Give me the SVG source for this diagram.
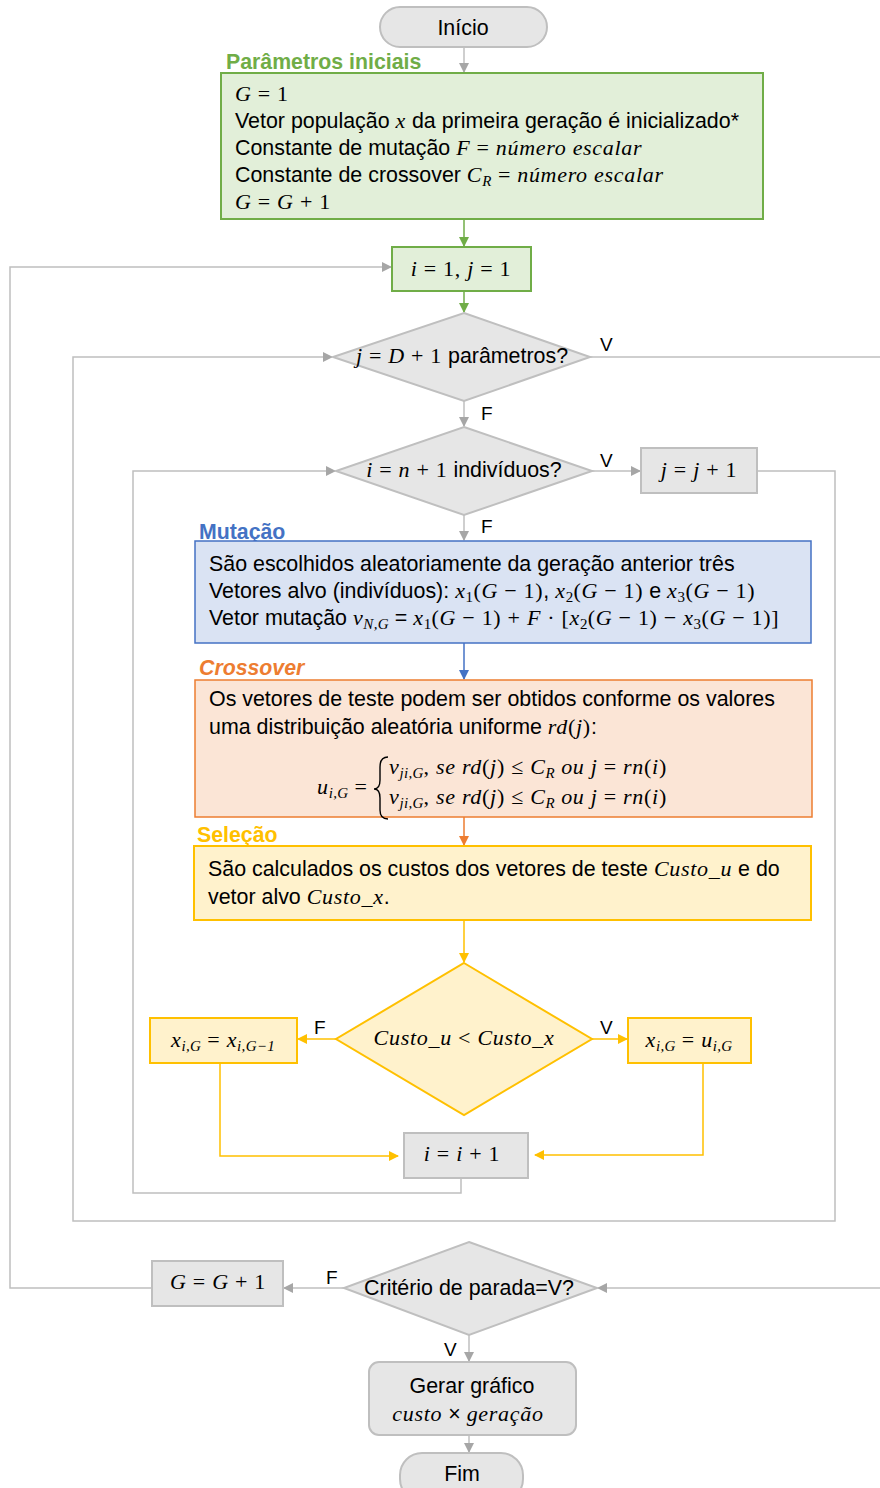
<svg xmlns="http://www.w3.org/2000/svg" width="880" height="1488" viewBox="0 0 880 1488">
<style>
.t{font-family:"Liberation Sans",Arial,sans-serif;font-size:21.4px;fill:#000;letter-spacing:0}
.lbl{font-family:"Liberation Sans",Arial,sans-serif;font-size:19px;fill:#000}
.h{font-family:"Liberation Sans",Arial,sans-serif;font-size:21.3px;font-weight:bold}
.mi{font-family:"Liberation Serif","Times New Roman",serif;font-style:italic;font-size:22px;letter-spacing:0.7px}
.mr{font-family:"Liberation Serif","Times New Roman",serif;font-style:normal;font-size:22px;letter-spacing:0.7px}
.sb{font-size:15px;letter-spacing:0.3px}
.gray{fill:#e6e6e6;stroke:#bfbfbf;stroke-width:2}
.green{fill:#e2efd9;stroke:#70ad47;stroke-width:2}
.blue{fill:#dae3f3;stroke:#4472c4;stroke-width:1.5}
.orange{fill:#fbe5d6;stroke:#ed7d31;stroke-width:1.5}
.yellow{fill:#fff2cc;stroke:#ffc000;stroke-width:2}
.cg{fill:none;stroke:#bfbfbf;stroke-width:1.5}
.cgr{fill:none;stroke:#70ad47;stroke-width:1.5}
.cb{fill:none;stroke:#4472c4;stroke-width:1.5}
.co{fill:none;stroke:#ed7d31;stroke-width:1.5}
.cy{fill:none;stroke:#ffc000;stroke-width:1.5}
</style>
<defs>
<marker id="ag" markerWidth="10" markerHeight="10" refX="9" refY="5" orient="auto" markerUnits="userSpaceOnUse"><path d="M0,0 L10,5 L0,10 z" fill="#a6a6a6"/></marker>
<marker id="agr" markerWidth="10" markerHeight="10" refX="9" refY="5" orient="auto" markerUnits="userSpaceOnUse"><path d="M0,0 L10,5 L0,10 z" fill="#70ad47"/></marker>
<marker id="ab" markerWidth="10" markerHeight="10" refX="9" refY="5" orient="auto" markerUnits="userSpaceOnUse"><path d="M0,0 L10,5 L0,10 z" fill="#4472c4"/></marker>
<marker id="ao" markerWidth="10" markerHeight="10" refX="9" refY="5" orient="auto" markerUnits="userSpaceOnUse"><path d="M0,0 L10,5 L0,10 z" fill="#ed7d31"/></marker>
<marker id="ay" markerWidth="10" markerHeight="10" refX="9" refY="5" orient="auto" markerUnits="userSpaceOnUse"><path d="M0,0 L10,5 L0,10 z" fill="#ffc000"/></marker>
</defs>
<rect width="880" height="1488" fill="#fff"/>

<g id="connectors">
<path class="cg" d="M464,47 V72" marker-end="url(#ag)"/>
<path class="cgr" d="M464,219 V246" marker-end="url(#agr)"/>
<path class="cgr" d="M464,291 V312" marker-end="url(#agr)"/>
<path class="cg" d="M152,1288 H10 V267 H391" marker-end="url(#ag)"/>
<path class="cg" d="M590,357 H880"/>
<path class="cg" d="M464,401 V426" marker-end="url(#ag)"/>
<path class="cg" d="M592,471 H640" marker-end="url(#ag)"/>
<path class="cg" d="M757,471 H835 V1221 H73 V357 H332" marker-end="url(#ag)"/>
<path class="cg" d="M461,1178 V1193 H133 V471 H335" marker-end="url(#ag)"/>
<path class="cg" d="M464,515 V540" marker-end="url(#ag)"/>
<path class="cb" d="M464,643 V679" marker-end="url(#ab)"/>
<path class="co" d="M464,817 V845" marker-end="url(#ao)"/>
<path class="cy" d="M464,920 V962" marker-end="url(#ay)"/>
<path class="cy" d="M336,1039 H298" marker-end="url(#ay)"/>
<path class="cy" d="M592,1039 H627" marker-end="url(#ay)"/>
<path class="cy" d="M220,1063 V1156 H398" marker-end="url(#ay)"/>
<path class="cy" d="M703,1063 V1155 H535" marker-end="url(#ay)"/>
<path class="cg" d="M880,1288 H598" marker-end="url(#ag)"/>
<path class="cg" d="M344,1288 H284" marker-end="url(#ag)"/>
<path class="cg" d="M469,1335 V1361" marker-end="url(#ag)"/>
<path class="cg" d="M469,1435 V1452" marker-end="url(#ag)"/>
<text class="lbl" x="600" y="351">V</text>
<text class="lbl" x="481" y="420">F</text>
<text class="lbl" x="600" y="467">V</text>
<text class="lbl" x="481" y="533">F</text>
<text class="lbl" x="314" y="1034">F</text>
<text class="lbl" x="600" y="1034">V</text>
<text class="lbl" x="326" y="1284">F</text>
<text class="lbl" x="444" y="1356">V</text>
</g>

<g id="inicio">
<rect class="gray" x="380" y="7" width="167" height="40" rx="20"/>
<text class="t" x="463" y="35" text-anchor="middle">Início</text>
</g>

<g id="parametros">
<text class="h" x="226" y="69" fill="#70ad47">Parâmetros iniciais</text>
<rect class="green" x="221" y="73" width="542" height="146"/>
<text x="235" y="101"><tspan class="mi">G</tspan><tspan class="mr"> = 1</tspan></text>
<text x="235" y="128" class="t">Vetor população <tspan class="mi">x</tspan> da primeira geração é inicializado*</text>
<text x="235" y="155" class="t">Constante de mutação <tspan class="mi">F</tspan><tspan class="mr"> = </tspan><tspan class="mi">número escalar</tspan></text>
<text x="235" y="182" class="t">Constante de crossover <tspan class="mi">C</tspan><tspan class="mi sb" dy="4">R</tspan><tspan class="mr" dy="-4"> =  </tspan><tspan class="mi">número escalar</tspan></text>
<text x="235" y="209"><tspan class="mi">G</tspan><tspan class="mr"> = </tspan><tspan class="mi">G</tspan><tspan class="mr"> + 1</tspan></text>
</g>

<g id="init-ij">
<rect class="green" x="392" y="247" width="139" height="44"/>
<text x="461" y="276" text-anchor="middle"><tspan class="mi">i</tspan><tspan class="mr"> = 1, </tspan><tspan class="mi">j</tspan><tspan class="mr"> = 1</tspan></text>
</g>

<g id="dec-j">
<polygon class="gray" points="464,313 590,357 464,401 333,357"/>
<text x="462" y="363" text-anchor="middle"><tspan class="mi">j</tspan><tspan class="mr"> = </tspan><tspan class="mi">D</tspan><tspan class="mr"> + 1</tspan><tspan class="t"> parâmetros?</tspan></text>
</g>

<g id="dec-i">
<polygon class="gray" points="464,427 592,471 464,515 336,471"/>
<text x="464" y="477" text-anchor="middle"><tspan class="mi">i</tspan><tspan class="mr"> = </tspan><tspan class="mi">n</tspan><tspan class="mr"> + 1</tspan><tspan class="t"> indivíduos?</tspan></text>
</g>

<g id="inc-j">
<rect class="gray" x="641" y="448" width="116" height="45"/>
<text x="699" y="477" text-anchor="middle"><tspan class="mi">j</tspan><tspan class="mr"> = </tspan><tspan class="mi">j</tspan><tspan class="mr"> + 1</tspan></text>
</g>

<g id="mutacao">
<text class="h" x="199" y="539" fill="#4472c4">Mutação</text>
<rect class="blue" x="195" y="541" width="616" height="102"/>
<text class="t" x="209" y="571">São escolhidos aleatoriamente da geração anterior três</text>
<text class="t" x="209" y="598">Vetores alvo (indivíduos): <tspan class="mi">x</tspan><tspan class="mr sb" dy="4">1</tspan><tspan class="mr" dy="-4">(</tspan><tspan class="mi">G</tspan><tspan class="mr"> − 1)</tspan>, <tspan class="mi">x</tspan><tspan class="mr sb" dy="4">2</tspan><tspan class="mr" dy="-4">(</tspan><tspan class="mi">G</tspan><tspan class="mr"> − 1)</tspan> e <tspan class="mi">x</tspan><tspan class="mr sb" dy="4">3</tspan><tspan class="mr" dy="-4">(</tspan><tspan class="mi">G</tspan><tspan class="mr"> − 1)</tspan></text>
<text class="t" x="209" y="625">Vetor mutação <tspan class="mi">v</tspan><tspan class="mi sb" dy="4">N,G</tspan><tspan dy="-4"> = </tspan><tspan class="mi">x</tspan><tspan class="mr sb" dy="4">1</tspan><tspan class="mr" dy="-4">(</tspan><tspan class="mi">G</tspan><tspan class="mr"> − 1) + </tspan><tspan class="mi">F</tspan><tspan class="mr"> ·  [</tspan><tspan class="mi">x</tspan><tspan class="mr sb" dy="4">2</tspan><tspan class="mr" dy="-4">(</tspan><tspan class="mi">G</tspan><tspan class="mr"> − 1) − </tspan><tspan class="mi">x</tspan><tspan class="mr sb" dy="4">3</tspan><tspan class="mr" dy="-4">(</tspan><tspan class="mi">G</tspan><tspan class="mr"> − 1)]</tspan></text>
</g>

<g id="crossover">
<text class="h" x="199" y="675" fill="#ed7d31" font-style="italic">Crossover</text>
<rect class="orange" x="195" y="680" width="617" height="137"/>
<text class="t" x="209" y="706">Os vetores de teste podem ser obtidos conforme os valores</text>
<text class="t" x="209" y="734">uma distribuição aleatória uniforme <tspan class="mi">rd</tspan><tspan class="mr">(</tspan><tspan class="mi">j</tspan><tspan class="mr">)</tspan>:</text>
<text x="317" y="794"><tspan class="mi">u</tspan><tspan class="mi sb" dy="4">i,G</tspan><tspan class="mr" dy="-4"> =</tspan></text>
<path d="M388,757 Q380,757 380,767 L380,780 Q380,789 374,789 Q380,789 380,798 L380,810 Q380,819 388,819" fill="none" stroke="#000" stroke-width="1.4"/>
<text x="389" y="774"><tspan class="mi">v</tspan><tspan class="mi sb" dy="4">ji,G</tspan><tspan class="mr" dy="-4">, </tspan><tspan class="mi">se rd</tspan><tspan class="mr">(</tspan><tspan class="mi">j</tspan><tspan class="mr">) ≤ </tspan><tspan class="mi">C</tspan><tspan class="mi sb" dy="4">R</tspan><tspan class="mi" dy="-4"> ou j</tspan><tspan class="mr"> = </tspan><tspan class="mi">rn</tspan><tspan class="mr">(</tspan><tspan class="mi">i</tspan><tspan class="mr">)</tspan></text>
<text x="389" y="804"><tspan class="mi">v</tspan><tspan class="mi sb" dy="4">ji,G</tspan><tspan class="mr" dy="-4">, </tspan><tspan class="mi">se rd</tspan><tspan class="mr">(</tspan><tspan class="mi">j</tspan><tspan class="mr">) ≤ </tspan><tspan class="mi">C</tspan><tspan class="mi sb" dy="4">R</tspan><tspan class="mi" dy="-4"> ou j</tspan><tspan class="mr"> = </tspan><tspan class="mi">rn</tspan><tspan class="mr">(</tspan><tspan class="mi">i</tspan><tspan class="mr">)</tspan></text>
</g>

<g id="selecao">
<text class="h" x="197" y="842" fill="#ffc000">Seleção</text>
<rect class="yellow" x="194" y="846" width="617" height="74"/>
<text class="t" x="208" y="876">São calculados os custos dos vetores de teste <tspan class="mi">Custo_u</tspan> e do</text>
<text class="t" x="208" y="904">vetor alvo <tspan class="mi">Custo_x</tspan>.</text>
</g>

<g id="dec-custo">
<polygon class="yellow" points="464,963 592,1039 464,1115 336,1039"/>
<text x="464" y="1045" text-anchor="middle"><tspan class="mi">Custo_u</tspan><tspan class="mr"> &lt; </tspan><tspan class="mi">Custo_x</tspan></text>
</g>

<g id="keep-x">
<rect class="yellow" x="150" y="1018" width="147" height="45"/>
<text x="223" y="1047" text-anchor="middle"><tspan class="mi">x</tspan><tspan class="mi sb" dy="4">i,G</tspan><tspan class="mr" dy="-4"> = </tspan><tspan class="mi">x</tspan><tspan class="mi sb" dy="4">i,G−1</tspan></text>
</g>

<g id="take-u">
<rect class="yellow" x="628" y="1018" width="123" height="45"/>
<text x="689" y="1047" text-anchor="middle"><tspan class="mi">x</tspan><tspan class="mi sb" dy="4">i,G</tspan><tspan class="mr" dy="-4"> = </tspan><tspan class="mi">u</tspan><tspan class="mi sb" dy="4">i,G</tspan></text>
</g>

<g id="inc-i">
<rect class="gray" x="404" y="1133" width="124" height="45"/>
<text x="462" y="1161" text-anchor="middle"><tspan class="mi">i</tspan><tspan class="mr"> = </tspan><tspan class="mi">i</tspan><tspan class="mr"> + 1</tspan></text>
</g>

<g id="dec-parada">
<polygon class="gray" points="469,1242 597,1288 469,1335 344,1288"/>
<text class="t" x="469" y="1295" text-anchor="middle">Critério de parada=V?</text>
</g>

<g id="inc-G">
<rect class="gray" x="152" y="1261" width="131" height="45"/>
<text x="218" y="1289" text-anchor="middle"><tspan class="mi">G</tspan><tspan class="mr"> = </tspan><tspan class="mi">G</tspan><tspan class="mr"> + 1</tspan></text>
</g>

<g id="grafico">
<rect class="gray" x="369" y="1362" width="207" height="73" rx="10"/>
<text class="t" x="472" y="1393" text-anchor="middle">Gerar gráfico</text>
<text x="468" y="1421" text-anchor="middle"><tspan class="mi">custo</tspan><tspan class="t"> × </tspan><tspan class="mi">geração</tspan></text>
</g>

<g id="fim">
<rect class="gray" x="400" y="1453" width="123" height="48" rx="22"/>
<text class="t" x="462" y="1481" text-anchor="middle">Fim</text>
</g>
</svg>
